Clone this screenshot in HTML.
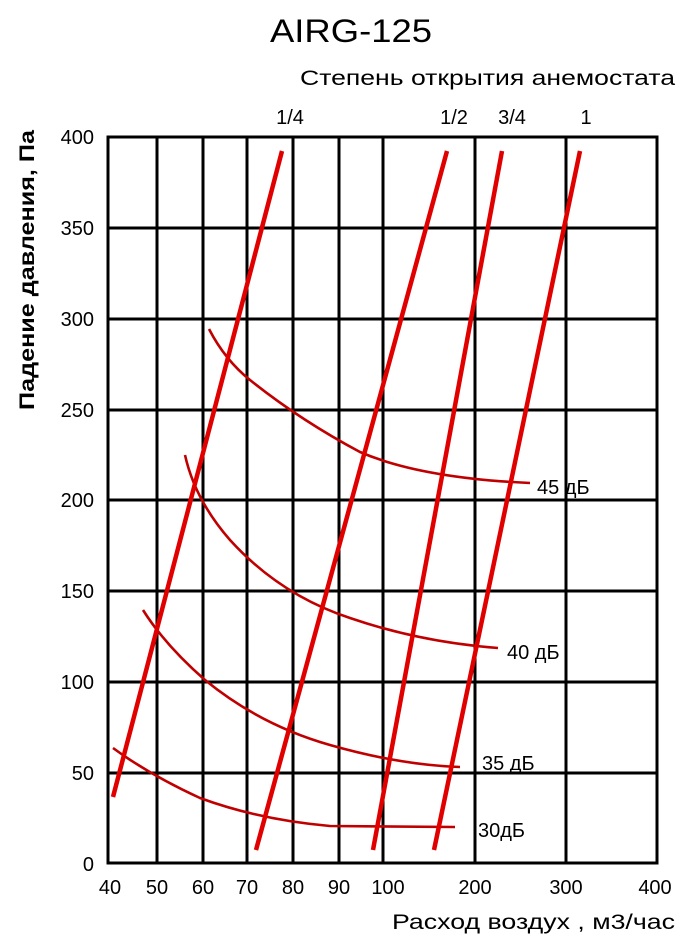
<!DOCTYPE html>
<html><head><meta charset="utf-8"><style>
body{margin:0;background:#fff}
svg{display:block}
text{font-family:"Liberation Sans",Arial,sans-serif;fill:#000}
</style></head><body>
<svg width="700" height="950" viewBox="0 0 700 950" xmlns="http://www.w3.org/2000/svg">
<text x="270" y="42" font-size="32" textLength="162" lengthAdjust="spacingAndGlyphs">AIRG-125</text>
<text x="300" y="85" font-size="21" textLength="375" lengthAdjust="spacingAndGlyphs">Степень открытия анемостата</text>
<g font-size="20" text-anchor="middle">
<text x="290" y="124">1/4</text><text x="454" y="124">1/2</text><text x="512" y="124">3/4</text><text x="586" y="124">1</text>
</g>
<text transform="translate(34,410) rotate(-90)" font-size="21" style="font-weight:600" textLength="280" lengthAdjust="spacingAndGlyphs">Падение давления, Па</text>
<g stroke="#000" stroke-width="3" fill="none">
<rect x="108" y="137" width="549" height="726"/>
<path d="M157 137V863M203 137V863M247 137V863M293 137V863M339 137V863M383 137V863M475 137V863M566 137V863"/>
<path d="M108 228H657M108 319H657M108 410H657M108 500H657M108 591H657M108 682H657M108 773H657"/>
</g>
<g font-size="20" text-anchor="end">
<text x="94" y="144">400</text><text x="94" y="235">350</text><text x="94" y="326">300</text><text x="94" y="417">250</text><text x="94" y="507">200</text><text x="94" y="598">150</text><text x="94" y="689">100</text><text x="94" y="780">50</text><text x="94" y="871">0</text>
</g>
<g font-size="20" text-anchor="middle">
<text x="110" y="894">40</text><text x="157" y="894">50</text><text x="203" y="894">60</text><text x="247" y="894">70</text><text x="293" y="894">80</text><text x="339" y="894">90</text><text x="388" y="894">100</text><text x="475" y="894">200</text><text x="566" y="894">300</text><text x="655" y="894">400</text>
</g>
<text x="392" y="929" font-size="21" textLength="283" lengthAdjust="spacingAndGlyphs">Расход воздух , м3/час</text>
<g stroke="#c00000" stroke-width="2.6" fill="none">
<path d="M209 329 Q225 360 250 380 Q300 420 360 452 Q420 478 530 483"/>
<path d="M185 455 Q195 500 230 540 Q280 595 350 618 Q420 642 498 648"/>
<path d="M143 610 Q165 645 205 680 Q260 725 330 745 Q400 765 460 767"/>
<path d="M113 748 Q150 775 200 798 Q260 820 330 826 L455 827"/>
</g>
<g stroke="#e00000" stroke-width="4.5" fill="none">
<path d="M113 797L282 151"/>
<path d="M256 850L447 151"/>
<path d="M373 850L502 151"/>
<path d="M434 850L580 151"/>
</g>
<g font-size="20">
<text x="537" y="494">45 дБ</text>
<text x="507" y="659">40 дБ</text>
<text x="482" y="770">35 дБ</text>
<text x="478" y="837">30дБ</text>
</g>
</svg>
</body></html>
